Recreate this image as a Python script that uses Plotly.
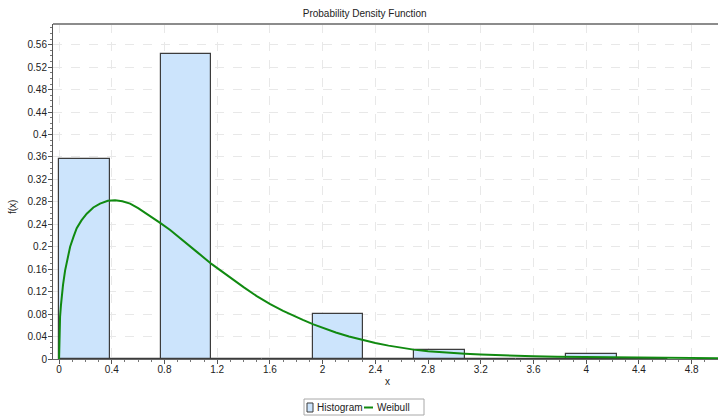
import numpy as np
import plotly.graph_objects as go

# Histogram bins (edges) and heights
bin_edges = [0.0, 0.385, 0.77, 1.155, 1.54, 1.925, 2.31, 2.695, 3.08, 3.465, 3.85, 4.235, 4.62]
hist_heights = [0.3556, 0.0, 0.5434, 0.0, 0.0, 0.0797, 0.0, 0.0155, 0.0, 0.0, 0.0096, 0.0]

# Weibull density curve
weib_x = [0.0, 0.003, 0.0076, 0.014, 0.02, 0.03, 0.046, 0.065, 0.084, 0.11, 0.134, 0.17,
          0.21, 0.26, 0.311, 0.37, 0.425, 0.48, 0.539, 0.6, 0.666, 0.767, 0.843,
          0.95, 1.05, 1.159, 1.278, 1.4, 1.5, 1.602, 1.7, 1.779, 1.85, 1.93, 2.0, 2.1,
          2.2, 2.31, 2.4, 2.5, 2.6, 2.69, 2.8, 2.9, 3.0, 3.08, 3.2, 3.35, 3.5, 3.6,
          3.78, 4.0, 4.3, 4.6, 5.0]
weib_y = [0.0, 0.045, 0.075, 0.095, 0.11, 0.132, 0.158, 0.181, 0.2, 0.218, 0.233, 0.247,
          0.259, 0.27, 0.277, 0.282, 0.283, 0.281, 0.277, 0.269, 0.259, 0.2426, 0.23,
          0.21, 0.19, 0.169, 0.148, 0.128, 0.112, 0.0976, 0.0858, 0.077, 0.0696, 0.0618, 0.0555,
          0.0473, 0.0401, 0.0333, 0.0285, 0.0238, 0.0197, 0.0167, 0.0140, 0.0120, 0.0104,
          0.0094, 0.0080, 0.0066, 0.0056, 0.0050, 0.0042, 0.0035, 0.0027, 0.0021, 0.0015]

x_ticks = [0, 0.4, 0.8, 1.2, 1.6, 2, 2.4, 2.8, 3.2, 3.6, 4, 4.4, 4.8]
x_tick_labels = ["0", "0.4", "0.8", "1.2", "1.6", "2", "2.4", "2.8", "3.2", "3.6", "4", "4.4", "4.8"]
y_ticks = [0, 0.04, 0.08, 0.12, 0.16, 0.2, 0.24, 0.28, 0.32, 0.36, 0.4, 0.44, 0.48, 0.52, 0.56]
y_tick_labels = ["0", "0.04", "0.08", "0.12", "0.16", "0.2", "0.24", "0.28", "0.32", "0.36",
                 "0.4", "0.44", "0.48", "0.52", "0.56"]
legend_labels = ["Histogram", "Weibull"]

edges = np.array(bin_edges)
centers = (edges[:-1] + edges[1:]) / 2
widths = np.diff(edges)

FONT = "Liberation Sans, Arial, sans-serif"
BAR_FILL = "#cce4fc"
BAR_LINE = "#3c3c3c"
CURVE = "#108a10"
W, H = 718, 417

fig = go.Figure()
fig.add_trace(go.Bar(
    x=centers, y=hist_heights, width=widths, name=legend_labels[0], showlegend=False,
    marker=dict(color=BAR_FILL, line=dict(color=BAR_LINE, width=1.2)),
))
fig.add_trace(go.Scatter(
    x=weib_x, y=weib_y, mode="lines", name=legend_labels[1], showlegend=False,
    line=dict(color=CURVE, width=2),
))

L, R, T, B = 53, 0, 24, 58
pw, ph = W - L - R, H - T - B

def ppx(x):  # figure px -> paper x
    return (x - L) / pw

def ppy(y):  # figure px -> paper y
    return (H - B - y) / ph

shapes = [
    dict(type="line", xref="paper", yref="paper", x0=0, x1=1, y0=1, y1=1,
         line=dict(color="#8c8c8c", width=2)),
    dict(type="rect", xref="paper", yref="paper", x0=ppx(304), x1=ppx(424), y0=ppy(415), y1=ppy(399),
         line=dict(color="#a8a8a8", width=1), fillcolor="white"),
    dict(type="rect", xref="paper", yref="paper", x0=ppx(307), x1=ppx(313), y0=ppy(412), y1=ppy(403),
         line=dict(color=BAR_LINE, width=1), fillcolor=BAR_FILL),
    dict(type="line", xref="paper", yref="paper", x0=ppx(364), x1=ppx(373), y0=ppy(407.5), y1=ppy(407.5),
         line=dict(color=CURVE, width=2)),
]
annotations = [
    dict(text=legend_labels[0], xref="paper", yref="paper", x=ppx(315), y=ppy(407.5),
         xanchor="left", yanchor="middle", showarrow=False, font=dict(size=10, color="#222")),
    dict(text=legend_labels[1], xref="paper", yref="paper", x=ppx(375), y=ppy(407.5),
         xanchor="left", yanchor="middle", showarrow=False, font=dict(size=10, color="#222")),
    dict(text="f(x)", xref="paper", yref="paper", x=ppx(12), y=ppy(207), textangle=-90,
         xanchor="center", yanchor="middle", showarrow=False, font=dict(size=10, color="#222")),
    dict(text="x", xref="paper", yref="paper", x=ppx(387), y=ppy(381),
         xanchor="center", yanchor="middle", showarrow=False, font=dict(size=10, color="#222")),
]

fig.update_layout(
    width=W, height=H,
    margin=dict(l=L, r=R, t=T, b=B, autoexpand=False),
    paper_bgcolor="white", plot_bgcolor="white",
    font=dict(family=FONT, size=10, color="#222"),
    title=dict(text="Probability Density Function", x=364.7 / W, xanchor="center",
               y=1 - 13 / H, yanchor="middle", font=dict(size=10, color="#222")),
    bargap=0,
    showlegend=False,
    shapes=shapes,
    annotations=annotations,
)
fig.update_xaxes(
    range=[-0.046, 5.0], tickmode="array", tickvals=x_ticks, ticktext=x_tick_labels,
    ticks="outside", ticklen=4, tickcolor="#555", showline=True, linecolor="#666",
    linewidth=1, showgrid=True, gridcolor="#e8e8e8", griddash="dash", zeroline=False,
    automargin=False, ticklabelstandoff=-3,
    minor=dict(dtick=0.1, tick0=0, ticks="outside", ticklen=2, tickcolor="#777", showgrid=False),
)
fig.update_yaxes(
    range=[0, 0.597], tickmode="array", tickvals=y_ticks, ticktext=y_tick_labels,
    ticks="outside", ticklen=4, tickcolor="#555", showline=True, linecolor="#555",
    linewidth=1, showgrid=True, gridcolor="#e8e8e8", griddash="dash", zeroline=False,
    automargin=False, ticklabelstandoff=-1,
    minor=dict(dtick=0.01, tick0=0, ticks="outside", ticklen=2, tickcolor="#777", showgrid=False),
)

fig.write_html("out.html", config={"displayModeBar": False},
               post_script="document.body.style.margin='0';")
